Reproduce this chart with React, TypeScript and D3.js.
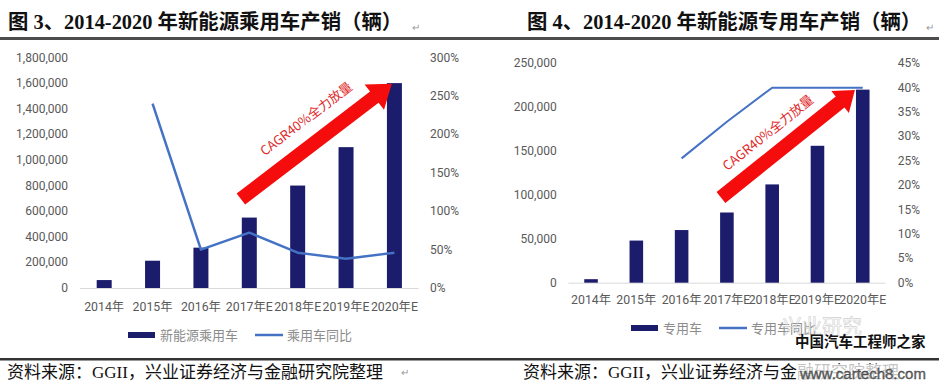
import { scaleBand, scaleLinear, line, format } from "d3";

const years = ["2014年", "2015年", "2016年", "2017年E", "2018年E", "2019年E", "2020年E"];

// 新能源乘用车 (辆) and year-on-year growth
const passengerSales = [62000, 213000, 315000, 550000, 800000, 1100000, 1600000];
const passengerGrowth = [null, 2.4, 0.5, 0.72, 0.46, 0.38, 0.46];
const passengerTicks = [0, 200000, 400000, 600000, 800000, 1000000, 1200000, 1400000, 1600000, 1800000];
const passengerPctTicks = [0, 0.5, 1, 1.5, 2, 2.5, 3];

// 专用车 (辆) and year-on-year growth
const specialSales = [4000, 48000, 60000, 80000, 112000, 156000, 220000];
const specialGrowth = [null, null, 0.255, 0.33, 0.4, 0.4, 0.4];
const specialTicks = [0, 50000, 100000, 150000, 200000, 250000];
const specialPctTicks = [0, 0.05, 0.1, 0.15, 0.2, 0.25, 0.3, 0.35, 0.4, 0.45];

const sourceText = "资料来源：GGII，兴业证券经济与金融研究院整理";
const arrowText = "CAGR40%全力放量";

const BAR = "#1c1c6c";
const LINE = "#4472c4";
const AXIS_TEXT = "#595959";
const FONT = "Roboto, 'Noto Sans CJK SC', sans-serif";
const TITLE_FONT = "'Liberation Serif', 'Noto Sans CJK SC', serif";

interface ArrowSpec {
    from: [number, number]; // [band index, value]
    to: [number, number];
    shaft: number;
    headW: number;
    headL: number;
    textT: number;
    textOff: number;
}

interface PanelProps {
    title: string;
    titleX: number;
    sales: number[];
    growth: (number | null)[];
    ticks: number[];
    pctTicks: number[];
    x0: number;
    x1: number;
    yTop: number;
    yBottom: number;
    leftLabelX: number;
    rightLabelX: number;
    xLabelY: number;
    padding: number;
    lineWidth: number;
    legendX: number;
    legendY: number;
    barName: string;
    lineName: string;
    arrow: ArrowSpec;
}

function Panel(p: PanelProps) {
    const scaleX = scaleBand<string>()
        .domain(years)
        .range([p.x0, p.x1])
        .paddingInner(p.padding)
        .paddingOuter(p.padding / 2);
    const scaleY = scaleLinear()
        .domain([0, p.ticks[p.ticks.length - 1]])
        .range([p.yBottom, p.yTop]);
    const scaleP = scaleLinear()
        .domain([0, p.pctTicks[p.pctTicks.length - 1]])
        .range([p.yBottom, p.yTop]);
    const step = scaleX.step();
    const cx = (i: number) => p.x0 + step * (i + 0.5);

    const pts = years
        .map((y, i) => ({ x: (scaleX(y) ?? 0) + scaleX.bandwidth() / 2, v: p.growth[i] }))
        .filter((d) => d.v != null) as { x: number; v: number }[];
    const path = line<{ x: number; v: number }>()
        .x((d) => d.x)
        .y((d) => scaleP(d.v))(pts);

    // red arrow annotation
    const a = p.arrow;
    const tx = cx(a.from[0]), ty = scaleY(a.from[1]);
    const hx = cx(a.to[0]), hy = scaleY(a.to[1]);
    const len = Math.hypot(hx - tx, hy - ty);
    const ang = (Math.atan2(hy - ty, hx - tx) * 180) / Math.PI;
    const s = a.shaft / 2, hw = a.headW / 2, hb = len - a.headL;
    const arrowPts = [
        [0, -s], [hb, -s], [hb, -hw], [len, 0], [hb, hw], [hb, s], [0, s]
    ].map((q) => q.join(",")).join(" ");

    const fmt = format(",");
    const pct = format(".0%");
    const lx = p.legendX + 32 + p.barName.length * 13;

    return (
        <g>
            <text x={p.titleX} y={22} dominantBaseline="central" fontFamily={TITLE_FONT}
                fontWeight="bold" fontSize={20.4} fill="#111">{p.title}</text>

            {p.ticks.map((t) => (
                <text key={t} x={p.leftLabelX} y={scaleY(t)} textAnchor="end" dominantBaseline="central"
                    fontFamily={FONT} fontSize={12} fill={AXIS_TEXT}>{fmt(t)}</text>
            ))}
            {p.pctTicks.map((t) => (
                <text key={t} x={p.rightLabelX} y={scaleP(t)} dominantBaseline="central"
                    fontFamily={FONT} fontSize={12} fill={AXIS_TEXT}>{pct(t)}</text>
            ))}
            <line x1={p.x0} x2={p.x1} y1={p.yBottom + 0.5} y2={p.yBottom + 0.5} stroke="#d9d9d9" />

            {years.map((y, i) => (
                <rect key={y} x={scaleX(y)} y={scaleY(p.sales[i])} width={scaleX.bandwidth()}
                    height={p.yBottom - scaleY(p.sales[i])} fill={BAR} />
            ))}
            {years.map((y) => (
                <text key={y} x={(scaleX(y) ?? 0) + scaleX.bandwidth() / 2} y={p.xLabelY}
                    textAnchor="middle" dominantBaseline="central" fontFamily={FONT} fontSize={12.3}
                    fill={AXIS_TEXT}>{y}</text>
            ))}
            <path d={path ?? ""} fill="none" stroke={LINE} strokeWidth={p.lineWidth} strokeLinejoin="round" />

            <g transform={`translate(${tx},${ty}) rotate(${ang})`}>
                <polygon points={arrowPts} fill="#f50d0d" />
                <text x={len * a.textT} y={-a.textOff} textAnchor="middle" dominantBaseline="central"
                    fontFamily="'Liberation Sans Narrow', 'Noto Sans CJK SC', sans-serif" fontSize={13}
                    fill="#e02a2a">{arrowText}</text>
            </g>

            <rect x={p.legendX} y={p.legendY - 3} width={27} height={6} fill={BAR} />
            <text x={p.legendX + 32} y={p.legendY} dominantBaseline="central" fontFamily={FONT}
                fontSize={13} fill="#8c8c8c">{p.barName}</text>
            <line x1={lx + 17} x2={lx + 45} y1={p.legendY} y2={p.legendY} stroke={LINE} strokeWidth={2.5} />
            <text x={lx + 49} y={p.legendY} dominantBaseline="central"
                fontFamily={FONT} fontSize={13} fill="#8c8c8c">{p.lineName}</text>
        </g>
    );
}

export default function App() {
    return (
        <svg width={939} height={385} style={{ position: "absolute", left: 0, top: 0, background: "#fff" }}>
            <rect width={939} height={385} fill="#fff" />
            <Panel
                title="图 3、2014-2020 年新能源乘用车产销（辆）"
                titleX={8}
                sales={passengerSales}
                growth={passengerGrowth}
                ticks={passengerTicks}
                pctTicks={passengerPctTicks}
                x0={80} x1={418.6} yTop={57.5} yBottom={288}
                leftLabelX={68} rightLabelX={430} xLabelY={307}
                padding={0.69} lineWidth={2.5}
                legendX={128} legendY={335}
                barName="新能源乘用车" lineName="乘用车同比"
                arrow={{ from: [2.826, 695000], to: [5.946, 1595000], shaft: 14, headW: 32, headL: 22, textT: 0.53, textOff: 25 }}
            />
            <Panel
                title="图 4、2014-2020 年新能源专用车产销（辆）"
                titleX={527}
                sales={specialSales}
                growth={specialGrowth}
                ticks={specialTicks}
                pctTicks={specialPctTicks}
                x0={568.4} x1={885.4} yTop={63.3} yBottom={282.7}
                leftLabelX={556.7} rightLabelX={897.7} xLabelY={300}
                padding={0.7} lineWidth={2}
                legendX={631} legendY={328}
                barName="专用车" lineName="专用车同比"
                arrow={{ from: [2.869, 97000], to: [5.827, 219500], shaft: 14, headW: 28, headL: 19, textT: 0.45, textOff: 22 }}
            />

            <rect x={0} y={37} width={939} height={3} fill="#4d4d4d" />
            <rect x={0} y={358} width={939} height={2.5} fill="#333" />
            <text x={412} y={31} fontSize={10} fill="#999" fontFamily={FONT}>↵</text>
            <text x={926} y={31} fontSize={10} fill="#999" fontFamily={FONT}>↵</text>

            <text x={7} y={372} dominantBaseline="central" fontFamily={TITLE_FONT} fontSize={17} fill="#111">{sourceText}</text>
            <text x={401} y={376} fontSize={10} fill="#999" fontFamily={FONT}>↵</text>
            <text x={523} y={372} dominantBaseline="central" fontFamily={TITLE_FONT} fontSize={17} fill="#111">{sourceText}</text>

            {/* watermarks */}
            <text x={782} y={334} fontFamily="'Noto Sans CJK SC', sans-serif" fontSize={20} fill="none"
                stroke="#d0d0d0" strokeWidth={0.6}>兴业研究</text>
            <text x={795} y={340} dominantBaseline="central" fontFamily="'Noto Sans CJK SC', sans-serif"
                fontWeight="bold" fontSize={14.5} fill="#111">中国汽车工程师之家</text>
            <rect x={797} y={364} width={135} height={17} fill="#fff" fillOpacity={0.75} />
            <text x={800} y={373} dominantBaseline="central" fontFamily="'Liberation Sans', sans-serif"
                fontSize={15} fill="#666" stroke="#333" strokeWidth={0.3}>www.cartech8.com</text>
        </svg>
    );
}
